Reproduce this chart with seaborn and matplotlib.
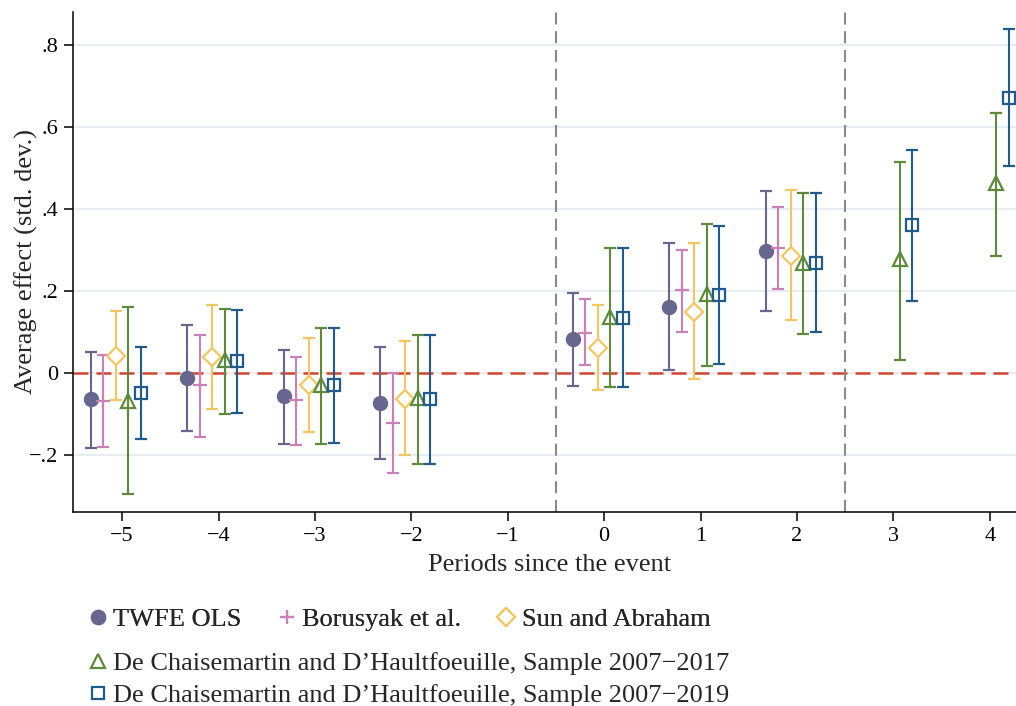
import matplotlib
matplotlib.use('Agg')
import matplotlib.pyplot as plt
from matplotlib.lines import Line2D
import numpy as np
import seaborn as sns

sns.set_theme(style='ticks')
plt.rcParams['font.family'] = ['Liberation Serif', 'DejaVu Serif']

# event-study estimates
periods_short = [-5, -4, -3, -2, 0, 1, 2]
periods_long = [-5, -4, -3, -2, 0, 1, 2, 3, 4]

twfe_est = [-0.065, -0.012, -0.058, -0.074, 0.081, 0.160, 0.298]
twfe_lo = [-0.183, -0.142, -0.174, -0.211, -0.032, 0.007, 0.150]
twfe_hi = [0.051, 0.117, 0.055, 0.063, 0.195, 0.316, 0.443]

bor_est = [-0.069, -0.031, -0.067, -0.124, 0.096, 0.202, 0.303]
bor_lo = [-0.182, -0.156, -0.176, -0.246, 0.018, 0.100, 0.204]
bor_hi = [0.043, 0.093, 0.038, 0.000, 0.179, 0.299, 0.405]

sa_est = [0.041, 0.039, -0.029, -0.064, 0.060, 0.147, 0.285]
sa_lo = [-0.067, -0.088, -0.145, -0.202, -0.042, -0.016, 0.128]
sa_hi = [0.151, 0.165, 0.084, 0.077, 0.165, 0.316, 0.446]

dc17_est = [-0.069, 0.031, -0.030, -0.063, 0.137, 0.191, 0.267, 0.277, 0.463]
dc17_lo = [-0.297, -0.101, -0.174, -0.223, -0.034, 0.017, 0.094, 0.030, 0.284]
dc17_hi = [0.160, 0.155, 0.110, 0.091, 0.305, 0.363, 0.439, 0.515, 0.634]

dc19_est = [-0.049, 0.029, -0.029, -0.064, 0.133, 0.190, 0.268, 0.360, 0.671]
dc19_lo = [-0.163, -0.099, -0.171, -0.223, -0.034, 0.020, 0.098, 0.175, 0.504]
dc19_hi = [0.063, 0.153, 0.110, 0.092, 0.303, 0.359, 0.439, 0.544, 0.838]

labels = ['TWFE OLS', 'Borusyak et al.', 'Sun and Abraham',
          'De Chaisemartin and D\u2019Haultfoeuille, Sample 2007\u22122017',
          'De Chaisemartin and D\u2019Haultfoeuille, Sample 2007\u22122019']

xtick_vals = [-5, -4, -3, -2, -1, 0, 1, 2, 3, 4]
xtick_labels = ['\u22125', '\u22124', '\u22123', '\u22122', '\u22121', '0', '1', '2', '3', '4']
ytick_vals = [-0.2, 0, 0.2, 0.4, 0.6, 0.8]
ytick_labels = ['\u2212.2', '0', '.2', '.4', '.6', '.8']

series = [
    (periods_short, twfe_est, twfe_lo, twfe_hi),
    (periods_short, bor_est, bor_lo, bor_hi),
    (periods_short, sa_est, sa_lo, sa_hi),
    (periods_long, dc17_est, dc17_lo, dc17_hi),
    (periods_long, dc19_est, dc19_lo, dc19_hi),
]

# styling
colors = ['#67668f', '#c982b8', '#f3c661', '#5d8a3b', '#1f5b8c']
markers = ['o', '+', 'D', '^', 's']
msizes = [9.5, 10, 9, 10, 9]
mfcs = ['#67668f', 'none', 'white', 'none', 'none']
offsets = [-0.325, -0.195, -0.065, 0.065, 0.195]

fig = plt.figure(figsize=(10.16, 7.06), dpi=100)
ax = fig.add_axes([73 / 1016, 1 - 512 / 706, 965 / 1016, 500 / 706])

ax.yaxis.grid(True, color='#e4edf1', lw=1.3, zorder=0)
ax.xaxis.grid(False)
ax.axhline(0, color='#d2452f', lw=1.8, dashes=(6, 3.2), zorder=1)
for xv in [-0.5, 2.5]:
    ax.axvline(xv, color='#8a8a8a', lw=1.5, dashes=(5.8, 3.2), zorder=1)

for (xs, est, lo, hi), c, m, ms, mfc, off in zip(series, colors, markers, msizes, mfcs, offsets):
    xs = np.array(xs) + off
    est = np.array(est)
    yerr = [est - np.array(lo), np.array(hi) - est]
    ax.errorbar(xs, est, yerr=yerr, fmt=m, color=c, ms=ms, mfc=mfc, mec=c,
                mew=1.6, elinewidth=1.5, capsize=4.6, capthick=1.5, zorder=3)

ax.set_xlim(-5.51, 4.5)
ax.set_ylim(-0.34, 0.88)
ax.set_xticks(xtick_vals)
ax.set_xticklabels(xtick_labels)
ax.set_yticks(ytick_vals)
ax.set_yticklabels(ytick_labels)
ax.tick_params(direction='out', length=6.5, width=1.1, colors='black', labelsize=16, pad=4)
sns.despine(ax=ax)
for s in ['left', 'bottom']:
    ax.spines[s].set_color('black')
    ax.spines[s].set_linewidth(1.1)
ax.set_facecolor('white')

ax.set_xlabel('Periods since the event', fontsize=19)
ax.set_ylabel('Average effect (std. dev.)', fontsize=19)
ax.xaxis.set_label_coords(0.494, -0.084)
ax.yaxis.set_label_coords(-0.036, 0.5)

handles = [Line2D([], [], ls='none', marker=m, color=c, ms=ms, mfc=mfc, mec=c, mew=1.6)
           for c, m, ms, mfc in zip(colors, markers, msizes, mfcs)]

leg1 = fig.legend(handles[:3], labels[:3], loc='center left', bbox_to_anchor=(87 / 1016, 1 - 619 / 706),
                  ncol=3, frameon=False, fontsize=19, handlelength=0.8, handletextpad=0.2,
                  columnspacing=1.3, borderpad=0, borderaxespad=0)
leg2 = fig.legend(handles[3:], labels[3:], loc='upper left', bbox_to_anchor=(87 / 1016, 1 - 652 / 706),
                  ncol=1, frameon=False, fontsize=19, handlelength=0.8, handletextpad=0.2,
                  labelspacing=0.3, borderpad=0, borderaxespad=0)
fig.add_artist(leg1)

fig.savefig('out.png', dpi=100)
